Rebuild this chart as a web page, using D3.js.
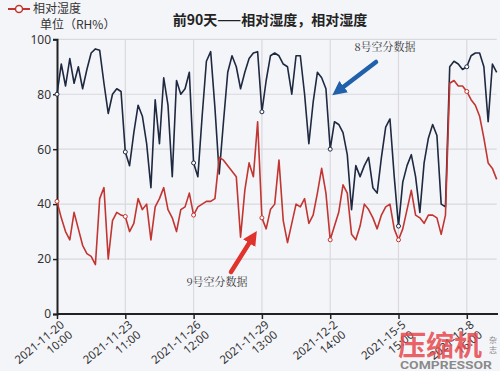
<!DOCTYPE html>
<html>
<head>
<meta charset="utf-8">
<script src="https://cdn.jsdelivr.net/npm/d3@7"></script>
<style>
  html, body { margin: 0; padding: 0; background: #f4f5f9; }
  #chart { width: 500px; height: 371px; }
  text { font-family: "Noto Sans CJK SC", "Noto Sans", sans-serif; }
</style>
</head>
<body>
<div id="chart"></div>
<script>
// tick labels shown on the category axis (one every 16 samples)
var tickLabels = [
    ["2021-11-20", "10:00"], ["2021-11-23", "11:00"], ["2021-11-26", "12:00"],
    ["2021-11-29", "13:00"], ["2021-12-2", "14:00"], ["2021-15-5", "15:00"],
    ["2021-12-8", "16:00"]
];
var samplesPerTick = 16;
var yTicks = [0, 20, 40, 60, 80, 100];

// 8号空分 (dark line)
var unit8 = [80, 91, 83, 93, 84, 90, 82, 89, 95, 96.5, 96, 84, 73, 80, 82, 81,
    59, 54, 66, 76, 72, 62, 46, 78, 62, 86, 76, 50, 85, 80, 82, 88,
    55, 50, 72, 92, 95.5, 75, 51, 70, 88, 94, 90, 82, 88, 93, 95, 95.5,
    73.6, 85, 94, 95, 94, 91, 90, 80, 94, 94, 80, 62, 77, 88, 86, 82,
    60, 70, 69, 66, 58, 38, 54, 50, 54, 57, 46, 44, 57, 68, 71, 50,
    32, 48, 54, 58, 50, 37, 55, 64, 69, 65, 40, 39, 90, 92, 91, 89,
    90, 94, 95, 95, 90, 70, 91, 88];

// 9号空分 (red line)
var unit9 = [41, 35, 30, 27, 37, 31, 25, 22, 21, 18, 42, 46, 20, 34, 37, 36,
    35.5, 30, 33, 42, 38, 40, 27, 39, 42, 46, 38, 35, 30, 38, 39, 44,
    36, 39, 40, 41, 41, 42, 57, 56, 54, 52, 50, 28, 45, 55, 50, 70,
    35, 31, 38, 40, 56, 34, 26, 33, 40, 39, 42, 33, 36, 44, 53, 44,
    27, 32, 37, 47, 44, 29, 27, 32, 40, 38, 35, 31, 36, 39, 40, 31,
    27, 31, 38, 45, 36, 35, 33, 36, 36, 35, 29, 36, 84, 85, 83, 83,
    81, 78, 76, 72, 64, 55, 53, 49];

var seriesColors = {unit8: "#1f2940", unit9: "#c23531"};

function drawChart() {
    var W = 500, H = 371;
    var left = 57, top = 39.3, bottom = 314;
    var n = unit8.length;
    var step = 68.3 / samplesPerTick;

    var svg = d3.select("#chart").append("svg")
        .attr("width", W).attr("height", H);

    var x = d3.scaleLinear().domain([0, n - 1]).range([left, left + (n - 1) * step]);
    var y = d3.scaleLinear().domain([0, 100]).range([bottom, top]);
    var right = x(n - 1);
    var tickIdx = tickLabels.map(function(d, i) { return i * samplesPerTick; });

    // grid
    svg.append("g").selectAll("line.h")
        .data(yTicks.slice(1))
        .enter().append("line")
        .attr("x1", left).attr("x2", right)
        .attr("y1", function(d) { return y(d); }).attr("y2", function(d) { return y(d); })
        .attr("stroke", "#d9d9de").attr("stroke-width", 1.2);
    svg.append("g").selectAll("line.v")
        .data(tickIdx.slice(1))
        .enter().append("line")
        .attr("x1", function(d) { return x(d); }).attr("x2", function(d) { return x(d); })
        .attr("y1", top).attr("y2", bottom)
        .attr("stroke", "#d9d9de").attr("stroke-width", 1.2);

    // axes
    var yAxis = svg.append("g")
        .attr("transform", "translate(" + left + ",0)")
        .call(d3.axisLeft(y).tickValues(yTicks).tickSize(4).tickPadding(2));
    yAxis.select(".domain").attr("stroke", "#222").attr("stroke-width", 2);
    yAxis.selectAll(".tick line").attr("stroke", "#222").attr("stroke-width", 1.5);
    yAxis.selectAll("text").style("font-size", "12px").attr("fill", "#333")
        .style("font-family", "'Noto Sans', sans-serif");

    var xAxis = svg.append("g")
        .attr("transform", "translate(0," + bottom + ")")
        .call(d3.axisBottom(x).tickValues(tickIdx).tickSize(5).tickFormat(""));
    xAxis.select(".domain").attr("stroke", "#222").attr("stroke-width", 2)
        .attr("d", "M" + left + ",0H" + (W - 2));
    xAxis.selectAll(".tick line").attr("stroke", "#222").attr("stroke-width", 1.5);

    tickIdx.forEach(function(t, i) {
        var g = svg.append("g")
            .attr("transform", "translate(" + (x(t) + 8) + "," + (bottom + 12) + ") rotate(-40)");
        g.append("text").attr("text-anchor", "end").attr("y", 0)
            .style("font-size", "11.5px").attr("fill", "#333")
            .style("font-family", "'Noto Sans', sans-serif")
            .text(tickLabels[i][0]);
        g.append("text").attr("text-anchor", "end").attr("y", 13)
            .style("font-size", "11.5px").attr("fill", "#333")
            .style("font-family", "'Noto Sans', sans-serif")
            .text(tickLabels[i][1]);
    });

    // lines
    var line = d3.line()
        .x(function(d, i) { return x(i); })
        .y(function(d) { return y(d); });

    [["unit8", unit8], ["unit9", unit9]].forEach(function(s) {
        svg.append("path")
            .datum(s[1])
            .attr("fill", "none")
            .attr("stroke", seriesColors[s[0]])
            .attr("stroke-width", 1.6)
            .attr("stroke-linejoin", "round")
            .attr("d", line);
        svg.selectAll(".mk-" + s[0])
            .data(tickIdx)
            .enter().append("circle")
            .attr("class", "mk-" + s[0])
            .attr("cx", function(d) { return x(d); })
            .attr("cy", function(d) { return y(s[1][d]); })
            .attr("r", 2)
            .attr("fill", "#fff")
            .attr("stroke", seriesColors[s[0]])
            .attr("stroke-width", 1);
    });

    // legend
    svg.append("line").attr("x1", 8).attr("x2", 30).attr("y1", 9).attr("y2", 9)
        .attr("stroke", seriesColors.unit9).attr("stroke-width", 2);
    svg.append("circle").attr("cx", 19).attr("cy", 9).attr("r", 3.5)
        .attr("fill", "#fff").attr("stroke", seriesColors.unit9).attr("stroke-width", 1.5);
    svg.append("text").attr("x", 33).attr("y", 13)
        .style("font-size", "12px").attr("fill", "#333").text("相对湿度");

    svg.append("text").attr("x", 40).attr("y", 29)
        .style("font-size", "12px").attr("fill", "#333").text("单位（RH%）");

    svg.append("text").attr("x", 270).attr("y", 25).attr("text-anchor", "middle")
        .style("font-size", "14px").style("font-weight", "bold").attr("fill", "#222")
        .text("前90天——相对湿度，相对湿度");

    // annotations
    var defs = svg.append("defs");
    [["arrBlue", "#2160aa"], ["arrRed", "#e0332b"]].forEach(function(a) {
        defs.append("marker").attr("id", a[0])
            .attr("viewBox", "0 0 10 10").attr("refX", 5).attr("refY", 5)
            .attr("markerWidth", 3.2).attr("markerHeight", 3.2)
            .attr("orient", "auto")
            .append("path").attr("d", "M0,0L10,5L0,10z").attr("fill", a[1]);
    });
    svg.append("line").attr("x1", 376).attr("y1", 62).attr("x2", 338).attr("y2", 91)
        .attr("stroke", "#2160aa").attr("stroke-width", 4.5).attr("stroke-linecap", "round")
        .attr("marker-end", "url(#arrBlue)");
    svg.append("line").attr("x1", 231).attr("y1", 272).attr("x2", 253).attr("y2", 237)
        .attr("stroke", "#e0332b").attr("stroke-width", 4.5).attr("stroke-linecap", "round")
        .attr("marker-end", "url(#arrRed)");

    svg.append("text").attr("x", 385).attr("y", 51).attr("text-anchor", "middle")
        .style("font-size", "11px").attr("fill", "#333")
        .style("font-family", "'Noto Serif CJK SC', 'Noto Sans CJK SC', serif")
        .text("8号空分数据");
    svg.append("text").attr("x", 217).attr("y", 286).attr("text-anchor", "middle")
        .style("font-size", "11px").attr("fill", "#333")
        .style("font-family", "'Noto Serif CJK SC', 'Noto Sans CJK SC', serif")
        .text("9号空分数据");

    // watermark
    svg.append("text").attr("x", 398).attr("y", 356)
        .style("font-size", "28px").style("font-weight", "bold")
        .attr("fill", "#e8474a").attr("fill-opacity", 0.85)
        .text("压缩机");
    svg.append("text").attr("x", 493).attr("y", 343).attr("text-anchor", "middle")
        .style("font-size", "8px").attr("fill", "#888").text("杂");
    svg.append("text").attr("x", 493).attr("y", 353).attr("text-anchor", "middle")
        .style("font-size", "8px").attr("fill", "#888").text("志");
    svg.append("text").attr("x", 400).attr("y", 369)
        .attr("textLength", 92).attr("lengthAdjust", "spacingAndGlyphs")
        .style("font-size", "11px").style("font-weight", "bold")
        .style("font-family", "Roboto, 'Noto Sans', sans-serif")
        .attr("fill", "#777").attr("fill-opacity", 0.85)
        .text("COMPRESSOR");
}

drawChart();
</script>
</body>
</html>
